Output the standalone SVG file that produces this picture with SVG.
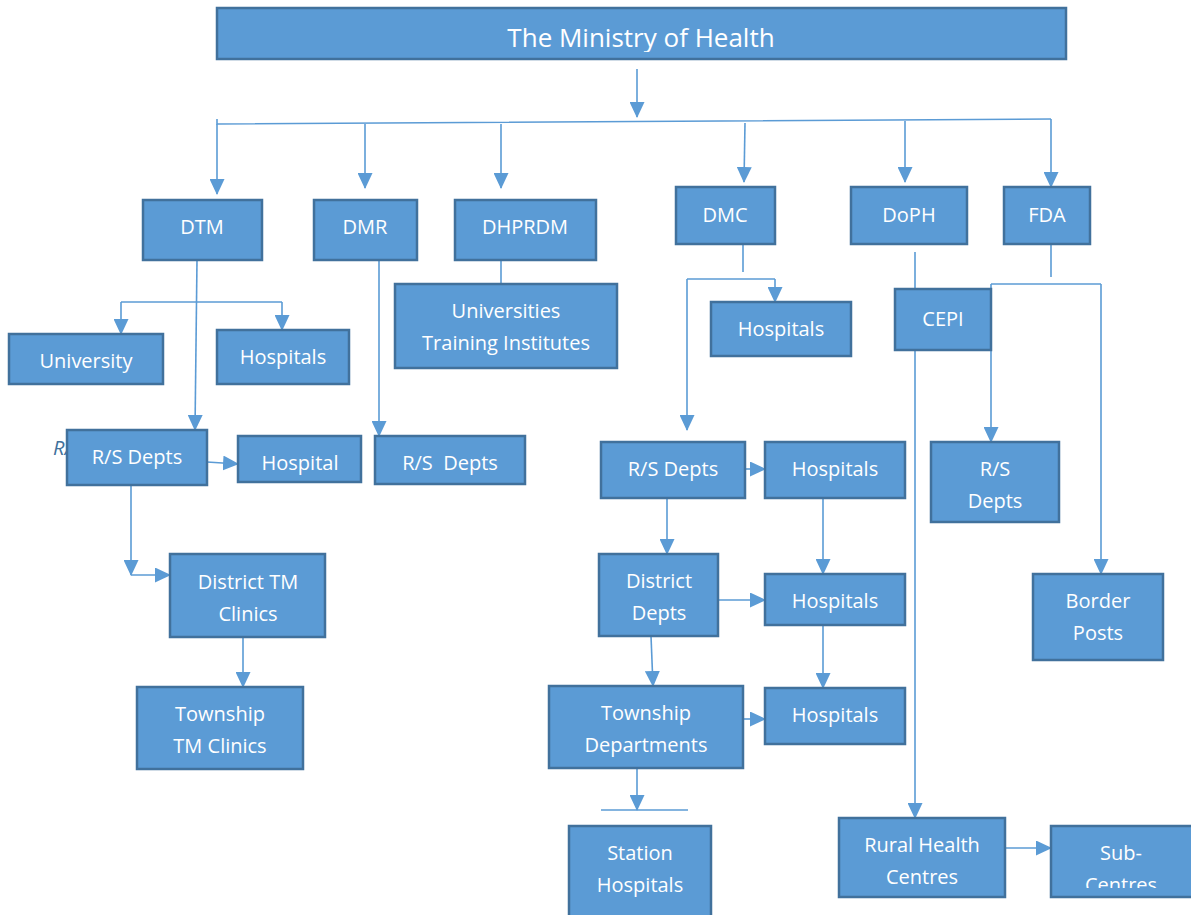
<svg xmlns="http://www.w3.org/2000/svg" width="1191" height="915" viewBox="0 0 1191 915">
<style>
.box{fill:#5B9BD5;stroke:#41719C;stroke-width:2.5}
.t{fill:#FFFFFF;font-family:"Open Sans","Liberation Sans",sans-serif;font-size:20px;text-anchor:middle}
.c{fill:none;stroke:#5B9BD5;stroke-width:1.6}
.a{marker-end:url(#ah)}
</style>
<defs>
<marker id="ah" markerUnits="userSpaceOnUse" markerWidth="16" markerHeight="15" refX="15" refY="7.5" orient="auto">
<path d="M0,0 L16,7.5 L0,15 z" fill="#5B9BD5"/>
</marker>
<clipPath id="subclip"><rect x="1051" y="826" width="141" height="62"/></clipPath>
<clipPath id="titleclip"><rect x="217" y="8" width="849" height="44"/></clipPath>
</defs>
<rect width="1191" height="915" fill="#FFFFFF"/>
<text x="53" y="455" style="fill:#41719C;font-family:'Open Sans','Liberation Sans',sans-serif;font-size:20px;font-style:italic">R/S</text>

<g id="connectors">
<path class="c a" d="M637,69 L637,117"/>
<path class="c" d="M217,119 L217,124 L1051,119"/>
<path class="c a" d="M217,124 L217,194"/>
<path class="c a" d="M365,124 L365,188"/>
<path class="c a" d="M501,124 L501,188"/>
<path class="c a" d="M745,123 L744,182"/>
<path class="c a" d="M905,121 L905,182"/>
<path class="c a" d="M1051,119 L1051,187"/>
<path class="c a" d="M197,260 L195,430"/>
<path class="c" d="M121,302 L282,302"/>
<path class="c a" d="M121,302 L121,334"/>
<path class="c a" d="M282,302 L282,330"/>
<path class="c a" d="M379,260 L379,436"/>
<path class="c" d="M501,260 L501,284"/>
<path class="c a" d="M207,462 L238,464"/>
<path class="c a" d="M131,485 L131,575"/>
<path class="c a" d="M131,575 L170,575"/>
<path class="c a" d="M243,637 L243,687"/>
<path class="c" d="M743,244 L743,272"/>
<path class="c" d="M687,279 L775,279"/>
<path class="c a" d="M775,279 L775,302"/>
<path class="c a" d="M687,279 L687,430"/>
<path class="c a" d="M745,469 L765,469"/>
<path class="c a" d="M667,498 L667,554"/>
<path class="c a" d="M823,498 L823,574"/>
<path class="c a" d="M718,600 L765,600"/>
<path class="c a" d="M651,636 L653,686"/>
<path class="c a" d="M823,625 L823,688"/>
<path class="c a" d="M743,719 L765,719"/>
<path class="c a" d="M637,768 L637,810"/>
<path class="c" d="M601,810 L688,810"/>
<path class="c" d="M915,252 L915,289"/>
<path class="c" d="M908,289 L922,289"/>
<path class="c a" d="M915,350 L915,818"/>
<path class="c" d="M1051,244 L1051,277"/>
<path class="c" d="M991,284 L1101,284"/>
<path class="c a" d="M991,284 L991,442"/>
<path class="c a" d="M1101,284 L1101,574"/>
<path class="c a" d="M1005,848 L1051,848"/>
</g>

<g id="ministry"><rect class="box" x="217" y="8" width="849" height="51"/><text class="t" x="641" y="47" clip-path="url(#titleclip)" style="font-size:26px">The Ministry of Health</text></g>
<g id="dtm"><rect class="box" x="143" y="200" width="119" height="60"/><text class="t" x="202" y="234">DTM</text></g>
<g id="dmr"><rect class="box" x="314" y="200" width="103" height="60"/><text class="t" x="365" y="234">DMR</text></g>
<g id="dhprdm"><rect class="box" x="455" y="200" width="141" height="60"/><text class="t" x="525" y="234">DHPRDM</text></g>
<g id="dmc"><rect class="box" x="676" y="187" width="99" height="57"/><text class="t" x="725" y="222">DMC</text></g>
<g id="doph"><rect class="box" x="851" y="187" width="116" height="57"/><text class="t" x="909" y="222">DoPH</text></g>
<g id="fda"><rect class="box" x="1004" y="187" width="86" height="57"/><text class="t" x="1047" y="222">FDA</text></g>
<g id="university"><rect class="box" x="9" y="334" width="154" height="50"/><text class="t" x="86" y="368">University</text></g>
<g id="dtm-hospitals"><rect class="box" x="217" y="330" width="132" height="54"/><text class="t" x="283" y="364">Hospitals</text></g>
<g id="universities"><rect class="box" x="395" y="284" width="222" height="84"/><text class="t" x="506" y="318">Universities</text><text class="t" x="506" y="350">Training Institutes</text></g>
<g id="dmc-hospitals"><rect class="box" x="711" y="302" width="140" height="54"/><text class="t" x="781" y="336">Hospitals</text></g>
<g id="cepi"><rect class="box" x="895" y="289" width="96" height="61"/><text class="t" x="943" y="326">CEPI</text></g>
<g id="dtm-rs"><rect class="box" x="67" y="430" width="140" height="55"/><text class="t" x="137" y="464">R/S Depts</text></g>
<g id="dtm-hospital"><rect class="box" x="238" y="436" width="123" height="46"/><text class="t" x="300" y="470">Hospital</text></g>
<g id="dmr-rs"><rect class="box" x="375" y="436" width="150" height="48"/><text class="t" x="450" y="470" xml:space="preserve">R/S  Depts</text></g>
<g id="dmc-rs"><rect class="box" x="601" y="442" width="144" height="56"/><text class="t" x="673" y="476">R/S Depts</text></g>
<g id="rs-hospitals"><rect class="box" x="765" y="442" width="140" height="56"/><text class="t" x="835" y="476">Hospitals</text></g>
<g id="fda-rs"><rect class="box" x="931" y="442" width="128" height="80"/><text class="t" x="995" y="476">R/S</text><text class="t" x="995" y="508">Depts</text></g>
<g id="district-tm"><rect class="box" x="170" y="554" width="155" height="83"/><text class="t" x="248" y="589">District TM</text><text class="t" x="248" y="621">Clinics</text></g>
<g id="district-depts"><rect class="box" x="599" y="554" width="119" height="82"/><text class="t" x="659" y="588">District</text><text class="t" x="659" y="620">Depts</text></g>
<g id="district-hospitals"><rect class="box" x="765" y="574" width="140" height="51"/><text class="t" x="835" y="608">Hospitals</text></g>
<g id="border-posts"><rect class="box" x="1033" y="574" width="130" height="86"/><text class="t" x="1098" y="608">Border</text><text class="t" x="1098" y="640">Posts</text></g>
<g id="township-tm"><rect class="box" x="137" y="687" width="166" height="82"/><text class="t" x="220" y="721">Township</text><text class="t" x="220" y="753">TM Clinics</text></g>
<g id="township-depts"><rect class="box" x="549" y="686" width="194" height="82"/><text class="t" x="646" y="720">Township</text><text class="t" x="646" y="752">Departments</text></g>
<g id="township-hospitals"><rect class="box" x="765" y="688" width="140" height="56"/><text class="t" x="835" y="722">Hospitals</text></g>
<g id="station-hospitals"><rect class="box" x="569" y="826" width="142" height="95"/><text class="t" x="640" y="860">Station</text><text class="t" x="640" y="892">Hospitals</text></g>
<g id="rural"><rect class="box" x="839" y="818" width="166" height="79"/><text class="t" x="922" y="852">Rural Health</text><text class="t" x="922" y="884">Centres</text></g>
<g id="sub-centres"><rect class="box" x="1051" y="826" width="145" height="71"/><g clip-path="url(#subclip)"><text class="t" x="1121" y="860">Sub-</text><text class="t" x="1121" y="892">Centres</text></g></g>
</svg>
